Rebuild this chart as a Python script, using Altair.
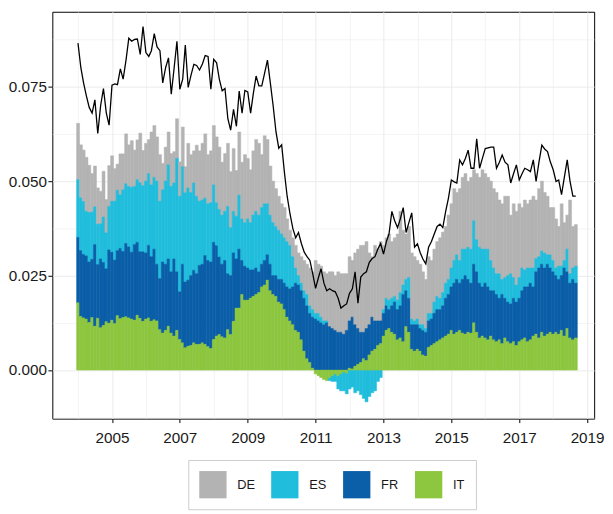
import altair as alt
import pandas as pd

countries = ["DE", "ES", "FR", "IT"]
colors = ["#B3B3B3", "#21BDDC", "#0B5EA8", "#8DC63F"]
stack_rank = {"IT": 0, "FR": 1, "ES": 2, "DE": 3}

# monthly contributions, in thousandths, Jan 2004 .. Sep 2018
it_vals = (
    [17.8, 14.2, 13.8, 13.5, 12.6, 13.9, 11.6, 13.7, 11.2, 11.8, 12.8, 12.4]
    + [13.2, 12.3, 14.4, 13.6, 13.9, 14.1, 13.8, 13.5, 13.2, 14.5, 13.7, 12.9]
    + [13.5, 13.8, 12.9, 13.3, 13.0, 10.7, 9.8, 10.5, 11.6, 9.8, 9.0, 10.5]
    + [8.1, 7.2, 5.9, 6.3, 6.5, 7.2, 6.8, 6.8, 7.2, 6.8, 6.2, 5.7]
    + [8.1, 9.0, 9.4, 8.8, 8.5, 10.7, 9.4, 12.9, 16.4, 16.4, 20.0, 18.5]
    + [18.5, 19.0, 19.5, 20.0, 20.5, 22.0, 22.5, 23.8, 21.0, 20.0, 19.5, 18.0]
    + [17.5, 16.0, 14.0, 13.0, 12.0, 10.5, 10.0, 8.0, 5.0, 3.0, 2.0, 0.5]
    + [-1.0, -1.5, -2.0, -2.5, -2.8, -2.0, -1.5, -1.0, -1.5, -1.0, -0.5, -0.8]
    + [0.5, 0.3, 1.0, 1.5, 2.0, 3.0, 2.5, 4.0, 5.0, 5.5, 6.5, 7.0]
    + [9.0, 10.5, 11.0, 10.0, 9.5, 8.0, 8.5, 7.5, 11.5, 10.0, 5.5, 5.0]
    + [5.5, 5.0, 4.0, 3.7, 6.0, 6.5, 7.0, 7.5, 8.0, 8.5, 9.0, 9.5]
    + [10.5, 9.5, 10.0, 10.5, 9.8, 9.5, 10.0, 9.8, 12.5, 10.0, 8.5, 9.0]
    + [8.5, 8.0, 9.0, 8.0, 7.5, 8.0, 7.0, 8.5, 7.5, 7.0, 7.5, 6.5]
    + [7.5, 8.0, 8.5, 7.5, 8.0, 9.0, 9.5, 8.5, 10.0, 9.0, 9.5, 10.0]
    + [9.5, 10.0, 9.5, 10.5, 9.0, 11.0, 8.5, 8.0, 8.5]
)
fr_vals = (
    [17.3, 17.4, 16.8, 16.7, 16.0, 15.4, 21.6, 14.2, 18.2, 16.7, 14.0, 19.4]
    + [18.0, 16.8, 17.2, 18.6, 17.5, 19.4, 18.8, 17.7, 20.0, 19.3, 17.6, 18.4]
    + [17.5, 19.2, 17.1, 18.7, 15.0, 13.5, 18.8, 17.5, 17.8, 16.2, 20.4, 15.5]
    + [12.6, 20.8, 17.4, 17.5, 18.5, 19.2, 18.7, 20.9, 20.8, 23.5, 22.8, 22.9]
    + [25.7, 23.9, 20.5, 19.2, 20.5, 14.8, 15.6, 18.1, 13.0, 15.6, 9.0, 9.0]
    + [8.5, 7.5, 7.0, 7.0, 5.5, 6.0, 6.5, 6.7, 7.0, 5.0, 5.5, 6.0]
    + [6.5, 7.0, 8.0, 8.5, 10.0, 12.5, 12.5, 13.0, 14.0, 14.0, 13.0, 13.5]
    + [13.5, 13.0, 12.5, 12.0, 12.5, 11.5, 11.0, 10.5, 10.0, 10.0, 9.5, 10.5]
    + [12.5, 13.7, 11.0, 9.5, 8.0, 7.0, 8.5, 8.0, 9.0, 7.5, 6.5, 6.0]
    + [6.0, 6.5, 5.0, 7.0, 8.5, 8.0, 8.5, 12.5, 9.5, 9.0, 6.5, 7.0]
    + [6.5, 6.0, 6.5, 6.3, 7.0, 7.0, 8.0, 8.5, 8.0, 8.5, 10.0, 10.5]
    + [11.5, 13.5, 14.0, 12.5, 14.2, 15.5, 14.0, 13.2, 15.5, 16.0, 14.5, 13.0]
    + [14.5, 14.0, 12.0, 13.0, 12.5, 11.0, 13.0, 10.5, 10.5, 10.5, 11.5, 11.5]
    + [11.5, 13.0, 13.5, 14.5, 15.0, 13.0, 16.5, 18.5, 18.0, 18.0, 18.5, 17.0]
    + [16.5, 15.0, 14.5, 14.5, 18.0, 15.0, 14.5, 16.0, 14.5]
)
es_vals = (
    [15.3, 14.0, 14.0, 11.8, 13.1, 12.5, 10.0, 10.7, 9.3, 12.0, 9.5, 11.5]
    + [13.5, 15.6, 16.0, 14.2, 16.3, 15.8, 16.0, 17.2, 15.4, 16.6, 18.3, 17.5]
    + [19.0, 19.0, 19.0, 19.0, 22.0, 20.5, 19.1, 22.0, 24.9, 22.6, 20.1, 30.0]
    + [25.3, 25.8, 23.6, 24.4, 22.0, 23.1, 20.5, 17.0, 17.0, 15.2, 15.0, 15.7]
    + [15.2, 11.4, 12.6, 13.0, 13.0, 17.8, 12.7, 11.0, 11.3, 14.3, 11.0, 11.5]
    + [13.0, 12.5, 14.5, 15.0, 15.0, 15.0, 15.0, 13.5, 13.0, 14.0, 13.0, 13.0]
    + [12.0, 12.0, 12.0, 11.5, 8.0, 4.0, 2.5, 2.0, 2.0, 3.0, 2.0, 2.0]
    + [1.5, 2.0, 1.5, 1.0, 0.5, -0.8, -1.5, -2.0, -3.5, -4.5, -5.0, -5.5]
    + [-5.0, -4.5, -6.0, -5.5, -6.5, -7.5, -8.4, -7.0, -6.0, -5.5, -3.0, -2.0]
    + [1.0, 2.0, 2.5, 2.0, 1.5, 2.5, 3.5, 2.5, 3.0, 5.5, 1.5, 1.0]
    + [1.5, 1.0, 1.5, 1.0, 2.0, 1.5, 3.0, 3.5, 3.0, 3.5, 4.0, 4.0]
    + [5.0, 6.0, 6.5, 6.0, 8.0, 7.0, 8.5, 9.0, 11.5, 8.5, 9.5, 10.0]
    + [9.0, 10.0, 8.0, 6.0, 5.5, 6.5, 4.0, 5.5, 7.0, 8.0, 5.5, 4.5]
    + [5.5, 6.0, 4.5, 5.0, 4.0, 5.0, 3.5, 3.0, 3.5, 4.0, 2.5, 3.5]
    + [3.0, 2.0, 3.5, 2.5, 2.0, 6.0, 2.5, 3.0, 4.5]
)
de_vals = (
    [14.9, 14.0, 13.6, 14.3, 12.5, 10.2, 10.8, 9.6, 8.6, 12.1, 8.8, 10.8]
    + [12.0, 8.6, 6.9, 10.8, 9.5, 13.2, 11.0, 12.3, 9.6, 10.5, 13.1, 9.3]
    + [10.0, 9.0, 14.0, 13.7, 11.7, 12.3, 7.0, 9.0, 8.7, 8.7, 8.3, 10.5]
    + [9.1, 10.5, 6.9, 11.8, 10.0, 8.5, 13.5, 13.3, 15.0, 17.0, 13.0, 13.7]
    + [15.7, 17.4, 16.5, 14.0, 15.3, 16.7, 14.8, 16.6, 12.1, 16.7, 15.0, 18.0]
    + [16.0, 14.0, 17.0, 19.0, 19.0, 14.0, 18.0, 17.0, 13.0, 11.0, 10.0, 9.0]
    + [8.0, 8.0, 6.0, 4.0, 5.0, 6.0, 6.0, 7.0, 8.0, 8.0, 10.0, 10.0]
    + [14.0, 13.0, 13.5, 13.0, 12.5, 14.5, 15.0, 14.5, 16.0, 15.5, 16.0, 15.0]
    + [17.0, 15.0, 19.0, 21.0, 23.0, 23.0, 23.0, 19.0, 16.0, 20.0, 19.0, 21.0]
    + [17.0, 16.0, 17.5, 15.0, 15.5, 17.5, 21.5, 14.5, 12.0, 13.5, 17.5, 17.0]
    + [15.5, 16.0, 14.0, 13.0, 15.0, 14.0, 14.0, 14.5, 16.0, 16.0, 15.0, 17.0]
    + [17.0, 19.0, 16.5, 19.0, 19.0, 20.0, 17.5, 19.0, 13.5, 17.5, 18.5, 21.0]
    + [20.0, 19.0, 21.0, 21.0, 21.5, 19.5, 20.0, 21.5, 21.0, 15.5, 19.5, 19.5]
    + [19.5, 16.0, 18.5, 17.0, 18.0, 19.0, 15.5, 18.0, 18.5, 16.0, 15.5, 12.5]
    + [14.0, 13.0, 10.5, 16.5, 10.0, 9.0, 19.5, 11.0, 11.0]
)
line_vals = (
    [86.5, 80, 76, 72.5, 69.5, 68, 71.5, 62.6, 70, 74.5, 68, 64.8]
    + [75.4, 75.7, 75.5, 79.7, 77, 82, 87.8, 87, 87.5, 87.6, 83.5, 90.9]
    + [84, 83, 84.5, 89, 85.5, 84.5, 76, 80, 82.6, 73, 80, 87]
    + [74.3, 77, 86, 74.8, 78, 80.9, 80.6, 79.4, 81, 83.2, 83, 74.3]
    + [82.2, 81.3, 77, 73.9, 74.5, 66.5, 63.5, 69, 64.5, 73.8, 68, 74]
    + [73.6, 68, 73, 77.8, 75.2, 75.2, 78.5, 82, 76, 70, 63, 58.7]
    + [59.6, 52, 46, 41.3, 37.5, 35, 36.4, 33.5, 31.2, 30, 29, 25.5]
    + [21.6, 24.5, 26.8, 23.0, 21.0, 21.5, 21.0, 20.7, 19.0, 16.4, 17.0, 17.5]
    + [20.3, 21.5, 26.0, 17.7, 24.6, 25.5, 26.0, 28.5, 29.5, 30.0, 32.0, 33.5]
    + [30.7, 34, 36, 42, 39.5, 37.7, 40, 43, 36.4, 39, 41.6, 32.5]
    + [33.4, 31, 29.4, 28.1, 32.5, 34, 36, 38, 38.6, 37.7, 42, 45.5]
    + [50.3, 49.8, 49.5, 55.6, 54.3, 56, 58.2, 53.4, 53.4, 61.2, 53.4, 56]
    + [58.6, 58.8, 59, 59, 53.4, 55, 56.9, 55, 54.3, 49.5, 52, 54.3]
    + [50.3, 52, 53.4, 53, 52.5, 55.6, 49.9, 55, 59.5, 58.5, 57.8, 55.1]
    + [53, 49.9, 50.3, 46.4, 51, 55.6, 50, 46, 46]
)

months = pd.date_range("2004-01-01", periods=177, freq="MS")
fmt = "%Y-%m-%dT%H:%M:%S"
series = {"DE": de_vals, "ES": es_vals, "FR": fr_vals, "IT": it_vals}

rows = []
for i, d in enumerate(months):
    start = (d - pd.Timedelta(days=15)).strftime(fmt)
    end = (d + pd.Timedelta(days=17)).strftime(fmt)
    for c in countries:
        rows.append({"start": start, "end": end, "country": c,
                     "value": series[c][i] / 1000, "rank": stack_rank[c]})
bars_df = pd.DataFrame(rows)
line_df = pd.DataFrame({"date": [d.strftime(fmt) for d in months],
                        "value": [v / 1000 for v in line_vals]})

odd = "year(datum.value) % 2 == 1"
major_y = "abs(datum.value * 40 - round(datum.value * 40)) < 0.01"

x_scale = alt.Scale(domain=[alt.DateTime(year=2003, month=3, date=31),
                            alt.DateTime(year=2019, month=3, date=18)])
y_scale = alt.Scale(domain=[-0.01285, 0.09481], nice=False, zero=False)
color_scale = alt.Scale(domain=countries, range=colors)

label_font = "Liberation Sans"
x_axis = alt.Axis(
    title=None,
    values=[alt.DateTime(year=y, month=1, date=1) for y in range(2004, 2020)],
    labelExpr=odd + " ? timeFormat(datum.value, '%Y') : ''",
    tickOpacity={"condition": {"test": odd, "value": 1}, "value": 0},
    gridWidth={"condition": {"test": odd, "value": 1.0}, "value": 0.55},
    gridColor="#EBEBEB",
    domain=False,
    tickColor="black", tickSize=4, tickWidth=1,
    labelFont=label_font, labelFontSize=15.5, labelColor="#1A1A1A",
    labelPadding=8, labelFlush=False, labelOverlap=False,
)
y_axis = alt.Axis(
    title=None,
    values=[-0.0125, 0, 0.0125, 0.025, 0.0375, 0.05, 0.0625, 0.075, 0.0875],
    labelExpr=major_y + " ? format(datum.value, '.3f') : ''",
    tickOpacity={"condition": {"test": major_y, "value": 1}, "value": 0},
    gridWidth={"condition": {"test": major_y, "value": 1.0}, "value": 0.55},
    gridColor="#EBEBEB",
    domain=False,
    tickColor="black", tickSize=4.5, tickWidth=1,
    labelFont=label_font, labelFontSize=15.5, labelColor="#1A1A1A",
    labelPadding=1.5, labelOverlap=False,
)

legend = alt.Legend(
    title=None, orient="none", legendX=138, legendY=455,
    direction="horizontal", columns=4,
    symbolType="square", symbolSize=767, symbolStrokeWidth=0, symbolOpacity=1,
    labelFont=label_font, labelFontSize=13, labelColor="#1A1A1A",
    labelOffset=10.7, columnPadding=16, padding=11,
    strokeColor="#CCCCCC",
)

bars = (
    alt.Chart(bars_df)
    .transform_stack(
        stack="value",
        groupby=["start"],
        as_=["y0", "y1"],
        sort=[alt.SortField("rank", order="ascending")],
        offset="zero",
    )
    .mark_bar(strokeWidth=0.5)
    .encode(
        x=alt.X("start:T", scale=x_scale, axis=x_axis),
        x2="end:T",
        y=alt.Y("y0:Q", scale=y_scale, axis=y_axis),
        y2="y1:Q",
        color=alt.Color("country:N", scale=color_scale, legend=legend),
        stroke=alt.Stroke("country:N", scale=color_scale, legend=None),
    )
)

line = alt.Chart(line_df).mark_line(color="black", strokeWidth=1.3).encode(
    x=alt.X("date:T", scale=x_scale, axis=x_axis),
    y=alt.Y("value:Q", scale=y_scale, axis=y_axis),
)

chart = (
    alt.layer(bars, line)
    .properties(width=550, height=413,
                padding={"left": 0, "right": 0, "top": 0, "bottom": 0},
                background="white")
    .configure_view(stroke="black", strokeWidth=1)
)

chart.save("out.html", embed_options={"renderer": "svg", "actions": False})
